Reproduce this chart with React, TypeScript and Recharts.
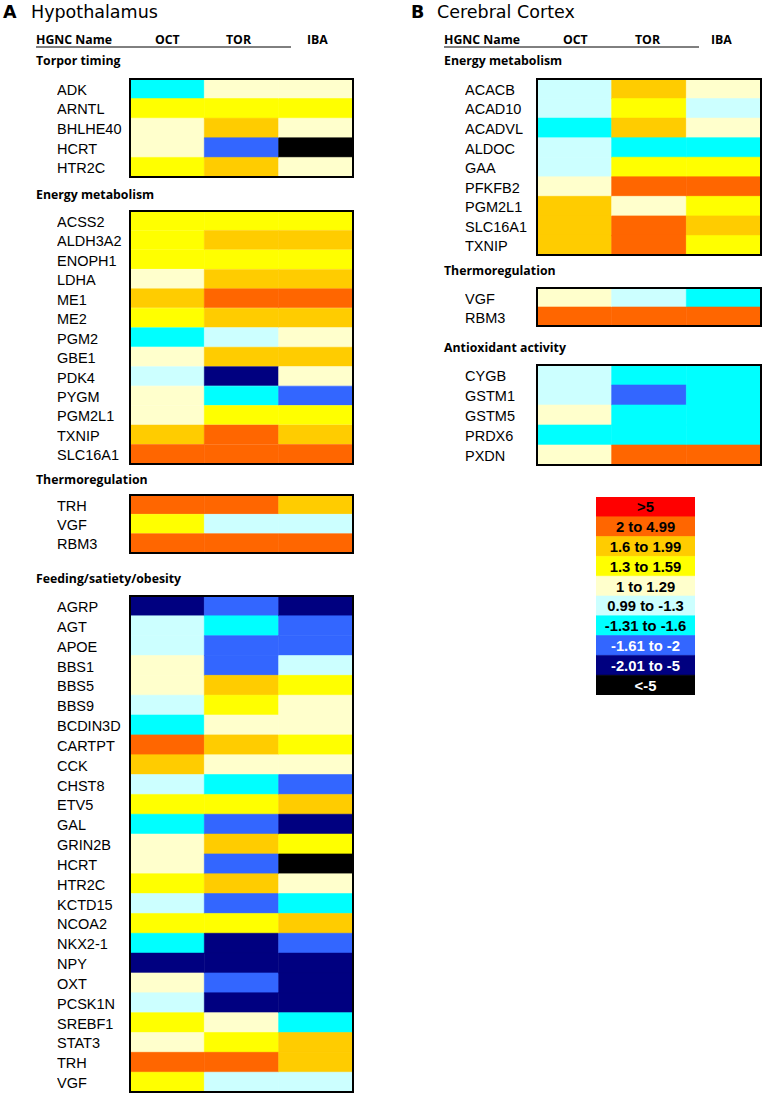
import React from 'react';
import { BarChart, Bar, XAxis, YAxis, Cell, LabelList } from 'recharts';

// Colour categories (fold-change bins)
const COLORS: Record<string, string> = {
  R: '#FF0000', O: '#FF6600', G: '#FFCC00', Y: '#FFFF00', C: '#FFFFCC',
  L: '#CCFFFF', A: '#00FFFF', B: '#3366FF', N: '#000080', K: '#000000',
};
const legendCodes = ['R', 'O', 'G', 'Y', 'C', 'L', 'A', 'B', 'N', 'K'];
const legendLabels = ['>5', '2 to 4.99', '1.6 to 1.99', '1.3 to 1.59', '1 to 1.29', '0.99 to -1.3', '-1.31 to -1.6', '-1.61 to -2', '-2.01 to -5', '<-5'];
const columns = ['OCT', 'TOR', 'IBA'];

// Hypothalamus
const hypTorporGenes = ['ADK', 'ARNTL', 'BHLHE40', 'HCRT', 'HTR2C'];
const hypTorporOCT = ['A', 'Y', 'C', 'C', 'Y'];
const hypTorporTOR = ['C', 'Y', 'G', 'B', 'G'];
const hypTorporIBA = ['C', 'Y', 'C', 'K', 'C'];

const hypEnergyGenes = ['ACSS2', 'ALDH3A2', 'ENOPH1', 'LDHA', 'ME1', 'ME2', 'PGM2', 'GBE1', 'PDK4', 'PYGM', 'PGM2L1', 'TXNIP', 'SLC16A1'];
const hypEnergyOCT = ['Y', 'Y', 'Y', 'C', 'G', 'Y', 'A', 'C', 'L', 'C', 'C', 'G', 'O'];
const hypEnergyTOR = ['Y', 'G', 'Y', 'G', 'O', 'G', 'L', 'G', 'N', 'A', 'Y', 'O', 'O'];
const hypEnergyIBA = ['Y', 'G', 'Y', 'G', 'O', 'G', 'C', 'G', 'C', 'B', 'Y', 'G', 'O'];

const hypThermoGenes = ['TRH', 'VGF', 'RBM3'];
const hypThermoOCT = ['O', 'Y', 'O'];
const hypThermoTOR = ['O', 'L', 'O'];
const hypThermoIBA = ['G', 'L', 'O'];

const hypFeedGenes = ['AGRP', 'AGT', 'APOE', 'BBS1', 'BBS5', 'BBS9', 'BCDIN3D', 'CARTPT', 'CCK', 'CHST8', 'ETV5', 'GAL', 'GRIN2B', 'HCRT', 'HTR2C', 'KCTD15', 'NCOA2', 'NKX2-1', 'NPY', 'OXT', 'PCSK1N', 'SREBF1', 'STAT3', 'TRH', 'VGF'];
const hypFeedOCT = ['N', 'L', 'L', 'C', 'C', 'L', 'A', 'O', 'G', 'L', 'Y', 'A', 'C', 'C', 'Y', 'L', 'Y', 'A', 'N', 'C', 'L', 'Y', 'C', 'O', 'Y'];
const hypFeedTOR = ['B', 'A', 'B', 'B', 'G', 'Y', 'C', 'G', 'C', 'A', 'Y', 'B', 'G', 'B', 'G', 'B', 'Y', 'N', 'N', 'B', 'N', 'C', 'Y', 'O', 'L'];
const hypFeedIBA = ['N', 'B', 'B', 'L', 'Y', 'C', 'C', 'Y', 'C', 'B', 'G', 'N', 'Y', 'K', 'C', 'A', 'G', 'B', 'N', 'N', 'N', 'A', 'G', 'G', 'L'];

// Cerebral cortex
const ctxEnergyGenes = ['ACACB', 'ACAD10', 'ACADVL', 'ALDOC', 'GAA', 'PFKFB2', 'PGM2L1', 'SLC16A1', 'TXNIP'];
const ctxEnergyOCT = ['L', 'L', 'A', 'L', 'L', 'C', 'G', 'G', 'G'];
const ctxEnergyTOR = ['G', 'Y', 'G', 'A', 'Y', 'O', 'C', 'O', 'O'];
const ctxEnergyIBA = ['C', 'L', 'C', 'A', 'Y', 'O', 'Y', 'G', 'Y'];

const ctxThermoGenes = ['VGF', 'RBM3'];
const ctxThermoOCT = ['C', 'O'];
const ctxThermoTOR = ['L', 'O'];
const ctxThermoIBA = ['A', 'O'];

const ctxAntiGenes = ['CYGB', 'GSTM1', 'GSTM5', 'PRDX6', 'PXDN'];
const ctxAntiOCT = ['L', 'L', 'C', 'A', 'C'];
const ctxAntiTOR = ['A', 'B', 'A', 'A', 'O'];
const ctxAntiIBA = ['A', 'A', 'A', 'A', 'O'];

const GENE_FONT = '"Liberation Sans", Arial, sans-serif';
const HEAD_FONT = '"Open Sans", sans-serif';
const TITLE_FONT = '"DejaVu Sans", sans-serif';

const GeneTick = (props: any) => {
  const { y, payload } = props;
  return (
    <text x={0} y={y} dy="0.42em" textAnchor="start" fontFamily={GENE_FONT} fontSize={14.5} fill="#000">
      {payload.value}
    </text>
  );
};

type SectionProps = {
  genes: string[]; oct: string[]; tor: string[]; iba: string[];
  x0: number; x1: number; x2: number; y0: number; y1: number;
};

const HeatSection = ({ genes, oct, tor, iba, x0, x1, x2, y0, y1 }: SectionProps) => {
  const data = genes.map((g, i) => ({ gene: g, OCT: oct[i], TOR: tor[i], IBA: iba[i] }));
  return (
    <>
      <div style={{ position: 'absolute', left: x0, top: y0 }}>
        <BarChart
          width={x2 - x0}
          height={y1 - y0}
          data={data}
          layout="vertical"
          margin={{ top: 0, right: 0, bottom: 0, left: 0 }}
          barCategoryGap={0}
          barGap={0}
        >
          <XAxis type="number" domain={[0, 3]} hide />
          <YAxis
            type="category"
            dataKey="gene"
            width={x1 - x0}
            axisLine={false}
            tickLine={false}
            interval={0}
            tick={<GeneTick />}
          />
          {columns.map((c) => (
            <Bar key={c} dataKey={() => 1} stackId="s" isAnimationActive={false}>
              {data.map((d: any, i) => (
                <Cell key={i} fill={COLORS[d[c]]} stroke={COLORS[d[c]]} strokeWidth={0.6} />
              ))}
            </Bar>
          ))}
        </BarChart>
      </div>
      <div
        style={{
          position: 'absolute', left: x1 - 1, top: y0 - 1, width: x2 - x1 + 2, height: y1 - y0 + 2,
          border: '2px solid #000', boxSizing: 'border-box', pointerEvents: 'none',
        }}
      />
    </>
  );
};

const LegendLabel = (props: any) => {
  const { x, y, width, height, value, index } = props;
  const light = index >= 7;
  return (
    <text
      x={x + width / 2}
      y={y + height / 2}
      dy="0.36em"
      textAnchor="middle"
      fontFamily={GENE_FONT}
      fontWeight="bold"
      fontSize={14.8}
      fill={light ? '#fff' : '#000'}
    >
      {value}
    </text>
  );
};

const ColorLegend = () => {
  const data = legendLabels.map((l, i) => ({ label: l, code: legendCodes[i] }));
  return (
    <div style={{ position: 'absolute', left: 596, top: 497 }}>
      <BarChart width={99} height={198} data={data} layout="vertical" margin={{ top: 0, right: 0, bottom: 0, left: 0 }} barCategoryGap={0}>
        <XAxis type="number" domain={[0, 1]} hide />
        <YAxis type="category" dataKey="label" hide />
        <Bar dataKey={() => 1} isAnimationActive={false}>
          {data.map((d, i) => (
            <Cell key={i} fill={COLORS[d.code]} stroke={COLORS[d.code]} strokeWidth={0.6} />
          ))}
          <LabelList dataKey="label" content={<LegendLabel />} />
        </Bar>
      </BarChart>
    </div>
  );
};

const Texts = () => {
  const sec = { fontFamily: HEAD_FONT, fontWeight: 700, fontSize: 12.3, fill: '#000' } as any;
  const hdr = { fontFamily: HEAD_FONT, fontWeight: 700, fontSize: 12.3, fill: '#000' } as any;
  const ttl = { fontFamily: TITLE_FONT, fontSize: 17.5, fill: '#000' } as any;
  return (
    <svg width={766} height={1097} style={{ position: 'absolute', left: 0, top: 0 }}>
      <text x={3} y={17.5} {...ttl} fontWeight={700}>A</text>
      <text x={31} y={17.5} {...ttl}>Hypothalamus</text>
      <text x={411} y={17.5} {...ttl} fontWeight={700}>B</text>
      <text x={437} y={17.5} {...ttl}>Cerebral Cortex</text>

      <text x={36} y={43.5} {...hdr}>HGNC Name</text>
      <text x={155} y={43.5} {...hdr}>OCT</text>
      <text x={226} y={43.5} {...hdr}>TOR</text>
      <text x={307} y={43.5} {...hdr}>IBA</text>
      <line x1={36} x2={291} y1={47} y2={47} stroke="#000" strokeWidth={1} />

      <text x={444} y={43.5} {...hdr}>HGNC Name</text>
      <text x={563} y={43.5} {...hdr}>OCT</text>
      <text x={635} y={43.5} {...hdr}>TOR</text>
      <text x={711} y={43.5} {...hdr}>IBA</text>
      <line x1={444} x2={699} y1={47} y2={47} stroke="#000" strokeWidth={1} />

      <text x={36} y={65} {...sec}>Torpor timing</text>
      <text x={36} y={199} {...sec}>Energy metabolism</text>
      <text x={36} y={484} {...sec}>Thermoregulation</text>
      <text x={36} y={583} {...sec}>Feeding/satiety/obesity</text>

      <text x={444} y={65} {...sec}>Energy metabolism</text>
      <text x={444} y={275} {...sec}>Thermoregulation</text>
      <text x={444} y={352} {...sec}>Antioxidant activity</text>
    </svg>
  );
};

export default function App() {
  return (
    <div style={{ position: 'absolute', left: 0, top: 0, width: 766, height: 1097, background: '#fff', overflow: 'hidden' }}>
      <Texts />
      <HeatSection genes={hypTorporGenes} oct={hypTorporOCT} tor={hypTorporTOR} iba={hypTorporIBA} x0={57} x1={130} x2={353} y0={79} y1={177} />
      <HeatSection genes={hypEnergyGenes} oct={hypEnergyOCT} tor={hypEnergyTOR} iba={hypEnergyIBA} x0={57} x1={130} x2={353} y0={211} y1={464} />
      <HeatSection genes={hypThermoGenes} oct={hypThermoOCT} tor={hypThermoTOR} iba={hypThermoIBA} x0={57} x1={130} x2={353} y0={495} y1={553} />
      <HeatSection genes={hypFeedGenes} oct={hypFeedOCT} tor={hypFeedTOR} iba={hypFeedIBA} x0={57} x1={130} x2={353} y0={596} y1={1092} />
      <HeatSection genes={ctxEnergyGenes} oct={ctxEnergyOCT} tor={ctxEnergyTOR} iba={ctxEnergyIBA} x0={465} x1={537} x2={761} y0={79} y1={255} />
      <HeatSection genes={ctxThermoGenes} oct={ctxThermoOCT} tor={ctxThermoTOR} iba={ctxThermoIBA} x0={465} x1={537} x2={761} y0={288} y1={326} />
      <HeatSection genes={ctxAntiGenes} oct={ctxAntiOCT} tor={ctxAntiTOR} iba={ctxAntiIBA} x0={465} x1={537} x2={761} y0={365} y1={465} />
      <ColorLegend />
    </div>
  );
}
